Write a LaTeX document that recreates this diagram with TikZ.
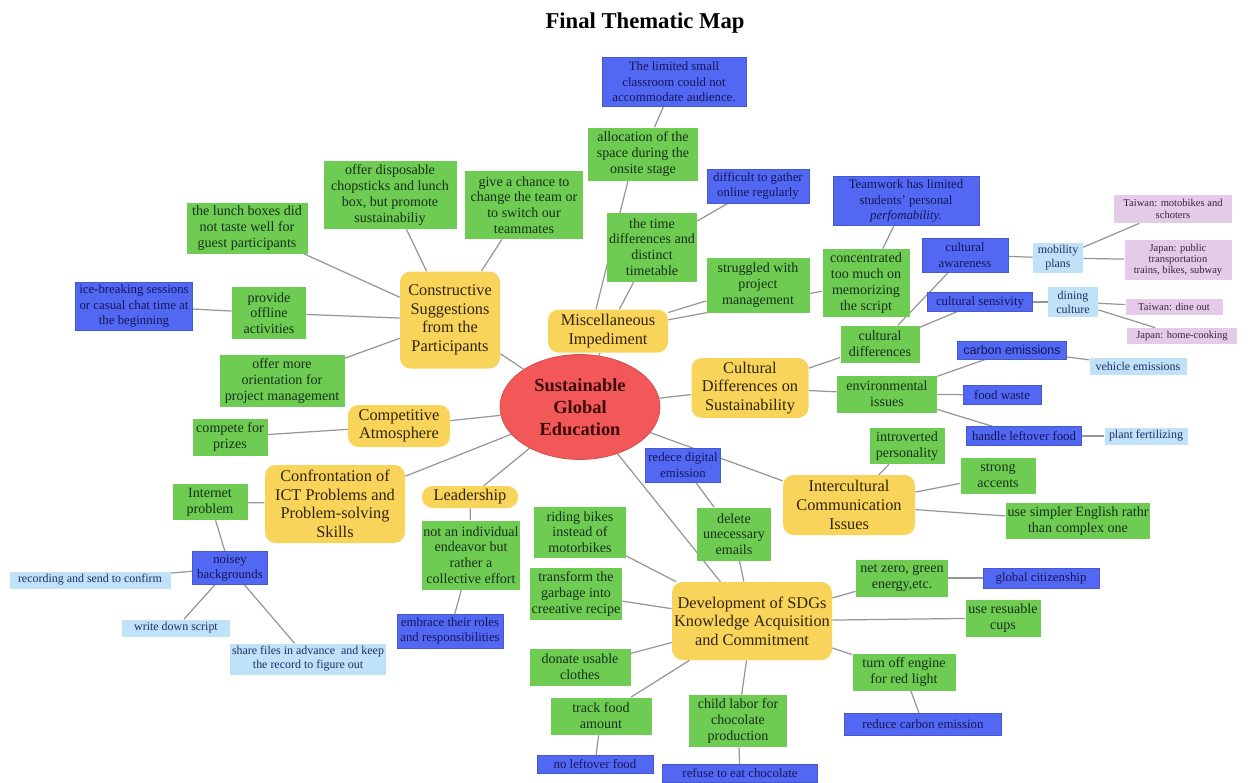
\documentclass[tikz,border=0pt]{standalone}
\usepackage{fontspec}
\setmainfont{Liberation Serif}
\newfontfamily\arialf{Liberation Sans}
\usetikzlibrary{shapes.geometric,backgrounds}
\definecolor{gfill}{RGB}{110,204,82}
\definecolor{gtext}{RGB}{24,48,24}
\definecolor{bfill}{RGB}{82,104,242}
\definecolor{btext}{RGB}{20,22,90}
\definecolor{lfill}{RGB}{192,226,249}
\definecolor{ltext}{RGB}{30,46,100}
\definecolor{pfill}{RGB}{228,204,232}
\definecolor{ptext}{RGB}{60,34,60}
\definecolor{yfill}{RGB}{249,212,90}
\definecolor{ytext}{RGB}{50,36,10}
\definecolor{rfill}{RGB}{242,88,88}
\definecolor{rtext}{RGB}{60,10,10}
\definecolor{egray}{RGB}{150,150,150}
\newcommand\nodebx[7]{\node[#6,minimum width=#4*0.02cm,minimum height=#5*0.02cm] (#1) at (#2,#3) {#7};}
\tikzset{
  every node/.style={inner sep=1pt, align=center},
  gbox/.style={fill=gfill, text=gtext, font=\fontsize{8}{9}\selectfont},
  bbox/.style={fill=bfill, draw=bfill!85!black, line width=0.3pt, text=btext, font=\fontsize{7.3}{8.8}\selectfont},
  lbox/.style={fill=lfill, text=ltext, font=\fontsize{6.8}{7.9}\selectfont},
  pbox/.style={fill=pfill, text=ptext, font=\fontsize{6}{6.5}\selectfont},
  ybox/.style={fill=yfill, rounded corners=6pt, text=ytext, font=\fontsize{9.3}{10.6}\selectfont},
  edge/.style={draw=egray, line width=0.7pt}
}
\begin{document}
\begin{tikzpicture}[x=0.02cm,y=-0.02cm]
\useasboundingbox (0,0) rectangle (1249,782);
\node[font=\bfseries\fontsize{12.9}{14}\selectfont] (title) at (645,23) {Final Thematic Map};
% centre
\node[ellipse, fill=rfill, draw=rfill!85!black, line width=0.4pt, minimum width=160*0.02cm, minimum height=105*0.02cm, inner sep=0pt, text=rtext, font=\bfseries\fontsize{10.5}{12.5}\selectfont] (c) at (580,407) {Sustainable\\Global\\Education};
% themes
\nodebx{cons}{450}{320}{100}{97}{ybox}{Constructive\\Suggestions\\from the\\Participants}
\nodebx{misc}{608}{331}{120}{43}{ybox}{Miscellaneous\\Impediment}
\nodebx{cult}{750}{388}{117}{60}{ybox}{Cultural\\Differences on\\Sustainability}
\nodebx{comp}{399}{426}{102}{42}{ybox}{Competitive\\Atmosphere}
\nodebx{conf}{335}{504}{140}{78}{ybox}{Confrontation of\\ICT Problems and\\Problem-solving\\Skills}
\nodebx{lead}{470}{497}{96}{22}{ybox}{Leadership}
\nodebx{inter}{849}{505}{132}{60}{ybox}{Intercultural\\Communication\\Issues}
\nodebx{sdg}{752}{621}{160}{78}{ybox}{Development of SDGs\\Knowledge Acquisition\\and Commitment}
% constructive
\nodebx{lunch}{247}{228}{121}{51}{gbox}{the lunch boxes did\\not taste well for\\guest participants}
\nodebx{chop}{390}{195}{133}{68}{gbox}{offer disposable\\chopsticks and lunch\\box, but promote\\sustainabiliy}
\nodebx{chance}{524}{205}{118}{68}{gbox}{give a chance to\\change the team or\\to switch our\\teammates}
\nodebx{ice}{134}{306}{117}{48}{bbox}{ice-breaking sessions\\or casual chat time at\\the beginning}
\nodebx{offl}{269}{313}{74}{52}{gbox}{provide\\offline\\activities}
\nodebx{orient}{282}{381}{125}{52}{gbox}{offer more\\orientation for\\project management}
% competitive / confrontation / leadership
\nodebx{prize}{230}{437}{75}{37}{gbox}{compete for\\prizes}
\nodebx{internet}{210}{502}{75}{36}{gbox}{Internet\\problem}
\nodebx{noisy}{230}{568}{75}{33}{bbox}{noisey\\backgrounds}
\nodebx{record}{90}{580}{161}{17}{lbox}{recording and send to confirm}
\nodebx{write}{176}{628}{108}{17}{lbox}{write down script}
\nodebx{share}{308}{659}{153}{31}{lbox}{share files in advance\ \ and keep\\the record to figure out}
\nodebx{indiv}{471}{555}{97}{69}{gbox}{not an individual\\endeavor but\\rather a\\collective effort}
\nodebx{embrace}{450}{631}{106}{34}{bbox}{embrace their roles\\and responsibilities}
% miscellaneous
\nodebx{room}{674}{82}{144}{49}{bbox}{The limited small\\classroom could not\\accommodate audience.}
\nodebx{alloc}{643}{154}{110}{53}{gbox}{allocation of the\\space during the\\onsite stage}
\nodebx{gather}{758}{186}{102}{34}{bbox}{difficult to gather\\online regularly}
\nodebx{timed}{652}{247}{89}{69}{gbox}{the time\\differences and\\distinct\\timetable}
\nodebx{strug}{758}{285}{103}{55}{gbox}{struggled with\\project\\management}
\nodebx{team}{906}{201}{146}{49}{bbox}{Teamwork has limited\\students' personal\\\textit{perfomability.}}
\nodebx{memo}{866}{283}{87}{68}{gbox}{concentrated\\too much on\\memorizing\\the script}
% cultural
\nodebx{cdiff}{880}{344}{79}{37}{gbox}{cultural\\differences}
\nodebx{env}{887}{394}{100}{37}{gbox}{environmental\\issues}
\nodebx{aware}{965}{255}{86}{34}{bbox}{cultural\\awareness}
\nodebx{sens}{980}{302}{105}{19}{bbox}{cultural sensivity}
\nodebx{mob}{1058}{258}{50}{30}{lbox}{mobility\\plans}
\nodebx{dine}{1073}{302}{50}{30}{lbox}{dining\\culture}
\nodebx{twmoto}{1173}{209}{118}{28}{pbox}{Taiwan: motobikes and\\schoters}
\nodebx{jppub}{1178}{260}{107}{40}{pbox}{Japan: public\\transportation\\trains, bikes, subway}
\nodebx{twdine}{1174}{307}{97}{16}{pbox}{Taiwan: dine out}
\nodebx{jphome}{1182}{336}{110}{16}{pbox}{Japan: home-cooking}
\nodebx{carbon}{1012}{350}{109}{18}{bbox,font=\arialf\fontsize{7.1}{8}\selectfont}{carbon emissions}
\nodebx{vehicle}{1138}{366}{97}{17}{lbox}{vehicle emissions}
\nodebx{waste}{1002}{395}{78}{19}{bbox}{food waste}
\nodebx{handle}{1024}{436}{115}{19}{bbox}{handle leftover food}
\nodebx{plant}{1146}{436}{83}{17}{lbox}{plant fertilizing}
% intercultural
\nodebx{intro}{907}{446}{75}{36}{gbox}{introverted\\personality}
\nodebx{accent}{998}{476}{75}{36}{gbox}{strong\\accents}
\nodebx{simple}{1078}{521}{144}{36}{gbox}{use simpler English rathr\\than complex one}
% SDGs
\nodebx{digit}{683}{465}{75}{34}{bbox}{redece digital\\emission}
\nodebx{delete}{734}{534}{74}{53}{gbox}{delete\\unecessary\\emails}
\nodebx{bikes}{580}{532}{92}{51}{gbox}{riding bikes\\instead of\\motorbikes}
\nodebx{garb}{576}{594}{92}{52}{gbox}{transform the\\garbage into\\creeative recipe}
\nodebx{clothes}{580}{667}{101}{37}{gbox}{donate usable\\clothes}
\nodebx{track}{601}{716}{101}{37}{gbox}{track food\\amount}
\nodebx{noleft}{595}{764}{116}{18}{bbox}{no leftover food}
\nodebx{child}{738}{721}{98}{52}{gbox}{child labor for\\chocolate\\production}
\nodebx{refuse}{740}{773}{155}{18}{bbox}{refuse to eat chocolate}
\nodebx{netzero}{902}{578}{92}{37}{gbox}{net zero, green\\energy,etc.}
\nodebx{citizen}{1041}{578}{116}{20}{bbox}{global citizenship}
\nodebx{cups}{1003}{618}{75}{37}{gbox}{use resuable\\cups}
\nodebx{engine}{904}{672}{103}{37}{gbox}{turn off engine\\for red light}
\nodebx{reduce}{923}{724}{157}{22}{bbox}{reduce carbon emission}
% connectors
\begin{pgfonlayer}{background}
\foreach \t in {cons,misc,cult,comp,conf,lead,inter,sdg} \draw[edge] (c) -- (\t);
\foreach \t in {lunch,chop,chance,offl,orient} \draw[edge] (cons) -- (\t);
\draw[edge] (offl) -- (ice);
\foreach \t in {timed,strug,memo} \draw[edge] (misc) -- (\t);
\draw[edge] ([xshift=-15*0.02cm]alloc.south) -- ([xshift=-12*0.02cm]misc.north);
\draw[edge] (alloc) -- (room);
\draw[edge] (timed) -- (gather);
\draw[edge] (memo) -- (team);
\draw[edge] (cult) -- (cdiff);
\draw[edge] (cult) -- (env);
\draw[edge] (cdiff) -- (aware);
\draw[edge] (cdiff) -- (sens);
\draw[edge] (aware) -- (mob);
\draw[edge] (mob) -- (twmoto);
\draw[edge] (mob) -- (jppub);
\draw[edge] (sens) -- (dine);
\draw[edge] (dine) -- (twdine);
\draw[edge] (dine) -- (jphome);
\foreach \t in {carbon,waste,handle} \draw[edge] (env) -- (\t);
\draw[edge] (carbon) -- (vehicle);
\draw[edge] (handle) -- (plant);
\draw[edge] (comp) -- (prize);
\draw[edge] (conf) -- (internet);
\draw[edge] (internet) -- (noisy);
\foreach \t in {record,write,share} \draw[edge] (noisy) -- (\t);
\draw[edge] (lead) -- (indiv);
\draw[edge] (indiv) -- (embrace);
\foreach \t in {intro,accent,simple} \draw[edge] (inter) -- (\t);
\foreach \t in {delete,bikes,garb,clothes,track,child,netzero,cups,engine} \draw[edge] (sdg) -- (\t);
\draw[edge] (delete) -- (digit);
\draw[edge] (track) -- (noleft);
\draw[edge] (child) -- (refuse);
\draw[edge] (netzero) -- (citizen);
\draw[edge] (engine) -- (reduce);
\end{pgfonlayer}
\end{tikzpicture}
\end{document}
